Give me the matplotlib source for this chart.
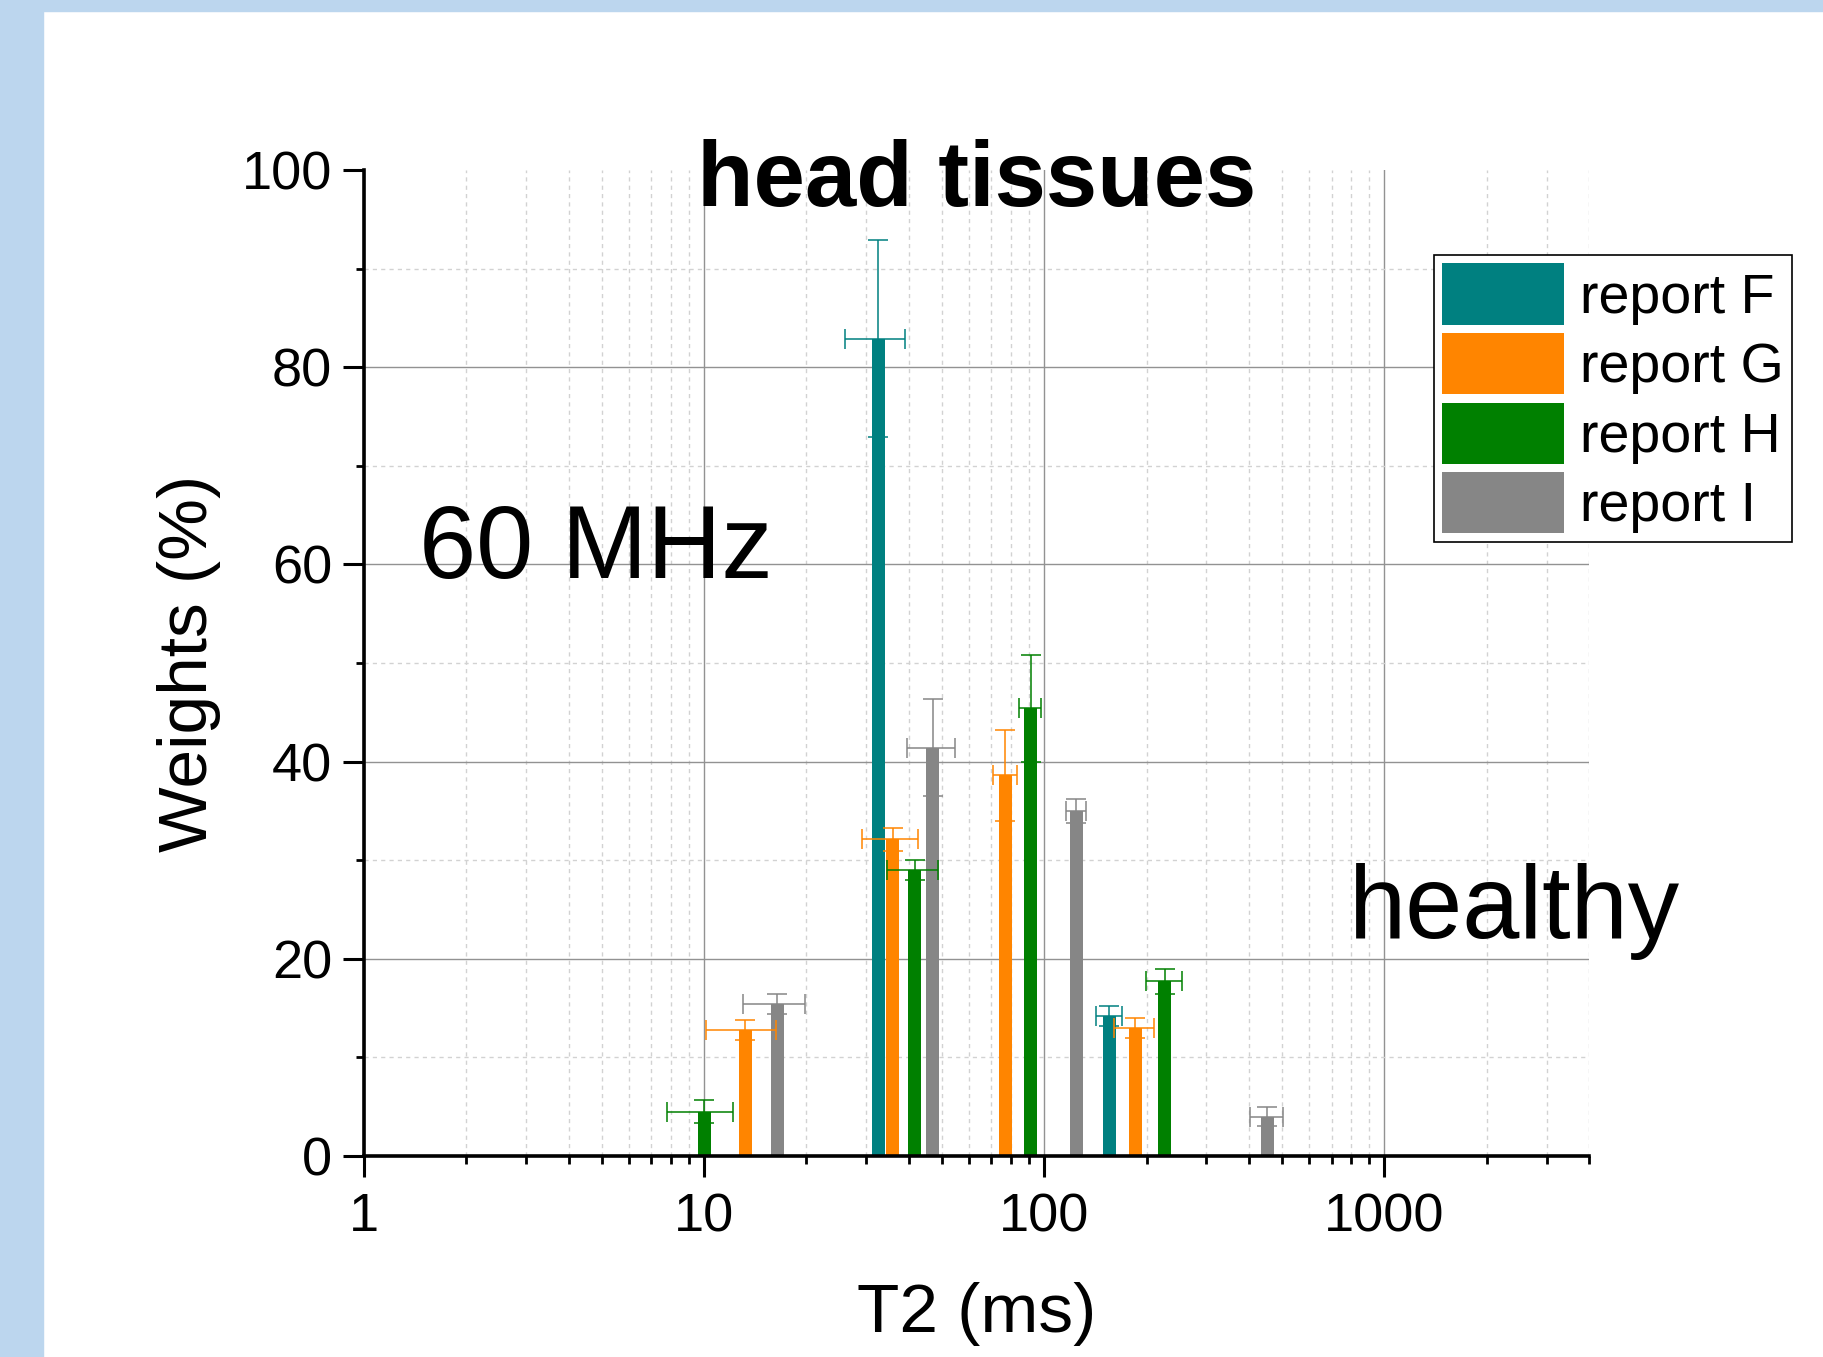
import numpy as np
import matplotlib
matplotlib.use("Agg")
import matplotlib.pyplot as plt
from matplotlib.patches import Rectangle
from matplotlib.ticker import LogLocator, MultipleLocator, NullFormatter

plt.rcParams['font.family'] = ['Liberation Sans', 'DejaVu Sans']

# T2 components (ms) and their weights (%) for each report, with errors
labels = ['report F', 'report G', 'report H', 'report I']
colors = ['#008080', '#FF8500', '#008000', '#868686']

t2_F = [32.5, 155.5]
w_F = [82.9, 14.2]
werr_F = [10.0, 1.0]
t2err_F = [6.6, 13.6]

t2_G = [13.2, 35.9, 76.8, 185.5]
w_G = [12.8, 32.1, 38.6, 13.0]
werr_G = [1.0, 1.2, 4.6, 1.0]
t2err_G = [3.1, 6.8, 6.2, 25.0]

t2_H = [10.0, 41.6, 91.2, 226.5]
w_H = [4.5, 29.0, 45.4, 17.7]
werr_H = [1.2, 1.0, 5.4, 1.3]
t2err_H = [2.2, 7.1, 6.6, 27.8]

t2_I = [16.4, 47.0, 124.3, 453.0]
w_I = [15.4, 41.4, 35.0, 4.0]
werr_I = [1.0, 4.9, 1.2, 1.0]
t2err_I = [3.4, 7.5, 8.3, 50.0]

x_ticks = [1, 10, 100, 1000]
x_ticklabels = ['1', '10', '100', '1000']
y_ticks = [0, 20, 40, 60, 80, 100]

series = [
    (t2_F, w_F, werr_F, t2err_F),
    (t2_G, w_G, werr_G, t2err_G),
    (t2_H, w_H, werr_H, t2err_H),
    (t2_I, w_I, werr_I, t2err_I),
]

W, H = 1824, 1357
fig = plt.figure(figsize=(W / 100, H / 100), dpi=100)
fig.patch.set_facecolor('white')

# slide frame: blue strips along the left and top edges
frame_col = '#BCD6EE'
fig.patches.append(Rectangle((0, 0), 43 / W, 1, transform=fig.transFigure,
                             color=frame_col, zorder=0))
fig.patches.append(Rectangle((0, 1 - 11 / H), 1, 11 / H, transform=fig.transFigure,
                             color=frame_col, zorder=0))

left, right = 364 / W, 1589 / W
bottom, top = 1 - 1156 / H, 1 - 170 / H
ax = fig.add_axes([left, bottom, right - left, top - bottom])
ax.set_xscale('log')
ax.set_xlim(1, 4000)
ax.set_ylim(0, 100)

# bars have a constant pixel width on the log axis
half = 0.0191  # decades
for (t2, w, werr, t2err), lab, col in zip(series, labels, colors):
    t2 = np.asarray(t2)
    lo = t2 * 10 ** (-half)
    hi = t2 * 10 ** half
    ax.bar(lo, w, width=hi - lo, align='edge', color=col, label=lab,
           linewidth=0, zorder=2)
    ax.errorbar(t2, w, yerr=werr, xerr=t2err, fmt='none', ecolor=col,
                elinewidth=1.1, capsize=7, capthick=1.1, zorder=3)

ax.set_xticks(x_ticks)
ax.set_xticklabels(x_ticklabels)
ax.xaxis.set_minor_locator(LogLocator(base=10, subs=np.arange(2, 10), numticks=20))
ax.xaxis.set_minor_formatter(NullFormatter())
ax.set_yticks(y_ticks)
ax.yaxis.set_minor_locator(MultipleLocator(10))

ax.set_axisbelow(True)
ax.grid(which='major', color='#929292', linewidth=1.0, linestyle='-')
ax.grid(which='minor', color='#D2D2D2', linewidth=1.0, linestyle=(0, (3, 3)))
# no grid line along the top edge
ax.yaxis.get_major_ticks()[-1].gridline.set_visible(False)

for side in ('top', 'right'):
    ax.spines[side].set_visible(False)
for side in ('left', 'bottom'):
    ax.spines[side].set_linewidth(2.6)
    ax.spines[side].set_zorder(4)

ax.tick_params(which='major', direction='out', length=15, width=2.2,
               labelsize=39)
ax.tick_params(axis='x', which='major', pad=11)
ax.tick_params(axis='y', which='major', pad=8)
ax.tick_params(which='minor', direction='out', length=6, width=2.0)

ax.set_xlabel('T2 (ms)', fontsize=50)
ax.xaxis.set_label_coords(0.5, -0.128)
ax.set_ylabel('Weights (%)', fontsize=50)
ax.yaxis.set_label_coords(-0.117, 0.5)

ax.text(0.5, 0.9635, 'head tissues', transform=ax.transAxes, fontsize=66.5,
        fontweight='bold', ha='center', va='baseline', zorder=5)
ax.text(0.045, 0.586, '60 MHz', transform=ax.transAxes, fontsize=74,
        ha='left', va='baseline')
ax.text(0.804, 0.221, 'healthy', transform=ax.transAxes, fontsize=74,
        ha='left', va='baseline')

leg = ax.legend(loc='upper right', bbox_to_anchor=(1792 / W, 1 - 255 / H),
                bbox_transform=fig.transFigure, fontsize=40, frameon=True,
                fancybox=False, framealpha=1, edgecolor='black', borderpad=0.15,
                borderaxespad=0, handlelength=2.2, handleheight=1.32,
                handletextpad=0.28, labelspacing=0.15)
leg.get_frame().set_linewidth(1.2)
leg.set_zorder(6)

fig.savefig('out.png', dpi=100)
